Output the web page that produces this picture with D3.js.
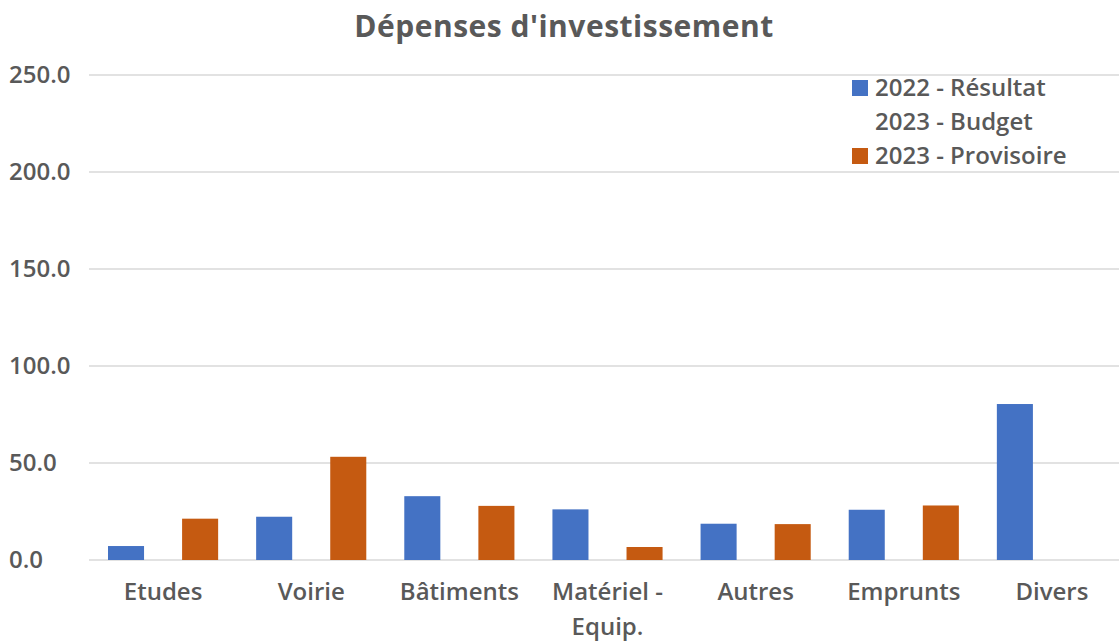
<!DOCTYPE html>
<html>
<head>
<meta charset="utf-8">
<script src="https://cdn.jsdelivr.net/npm/d3@7"></script>
<style>
  body { margin: 0; background: #fff; }
  .chart text { font-family: "Open Sans", sans-serif; fill: #595959; font-weight: 600; }
</style>
</head>
<body>
<div class="chart"></div>
<script>
var categories = ["Etudes", "Voirie", "Bâtiments", "Matériel - Equip.", "Autres", "Emprunts", "Divers"];
var seriesNames = ["2022 - Résultat", "2023 - Budget", "2023 - Provisoire"];
var resultat2022 = [7.2, 22.3, 32.9, 26.1, 18.7, 25.9, 80.4];
var budget2023 = [null, null, null, null, null, null, null];
var provisoire2023 = [21.3, 53.2, 27.9, 6.7, 18.5, 28.1, null];
var seriesColors = ["#4472c4", "none", "#c55a11"];
var yTicks = [0, 50, 100, 150, 200, 250];

var width = 1119, height = 641;
var margin = { top: 75, right: -7, bottom: 81, left: 89 };

var svg = d3.select(".chart").append("svg")
  .attr("width", width)
  .attr("height", height);

var y = d3.scaleLinear()
  .domain([0, 250])
  .range([height - margin.bottom, margin.top]);

var x0 = d3.scaleBand()
  .domain(categories)
  .range([margin.left, width - margin.right]);

var x1 = d3.scaleBand()
  .domain(seriesNames)
  .range([18.5, x0.bandwidth() - 18.5]);

svg.append("text")
  .attr("x", 564)
  .attr("y", 37)
  .attr("text-anchor", "middle")
  .style("font-size", "30px")
  .style("font-weight", "700")
  .style("letter-spacing", "0.5px")
  .text("Dépenses d'investissement");

// gridlines
svg.append("g")
  .selectAll("line")
  .data(yTicks)
  .enter().append("line")
    .attr("x1", margin.left)
    .attr("x2", width)
    .attr("y1", d => y(d))
    .attr("y2", d => y(d))
    .attr("stroke", "#d9d9d9")
    .attr("stroke-width", 1.3);

// y labels, left aligned like the original
svg.append("g")
  .selectAll("text")
  .data(yTicks)
  .enter().append("text")
    .attr("x", 9)
    .attr("y", d => y(d))
    .attr("dy", "0.35em")
    .style("font-size", "24px")
    .text(d => d3.format(".1f")(d));

var seriesData = [resultat2022, budget2023, provisoire2023];

var rows = [];
seriesData.forEach(function(vals, s) {
  vals.forEach(function(v, i) {
    if (v != null) rows.push({ cat: categories[i], series: seriesNames[s], value: v, color: seriesColors[s] });
  });
});

svg.append("g")
  .selectAll("rect")
  .data(rows)
  .enter().append("rect")
    .attr("x", d => x0(d.cat) + x1(d.series) + 0.5)
    .attr("width", x1.bandwidth() - 1)
    .attr("y", d => y(d.value))
    .attr("height", d => y(0) - y(d.value))
    .attr("fill", d => d.color);

// category labels
var catLabels = svg.append("g")
  .selectAll("text")
  .data(categories)
  .enter().append("text")
    .attr("x", d => x0(d) + x0.bandwidth() / 2)
    .attr("y", 600)
    .attr("text-anchor", "middle")
    .style("font-size", "24px");

catLabels.each(function(d) {
  var parts = d === "Matériel - Equip." ? ["Matériel -", "Equip."] : [d];
  var t = d3.select(this);
  parts.forEach(function(p, i) {
    t.append("tspan")
      .attr("x", x0(d) + x0.bandwidth() / 2)
      .attr("dy", i === 0 ? 0 : 35)
      .text(p);
  });
});

// legend
var legend = svg.append("g")
  .attr("transform", "translate(852,80)");

var item = legend.selectAll("g")
  .data(seriesNames)
  .enter().append("g")
    .attr("transform", (d, i) => "translate(0," + (i * 34) + ")");

item.append("rect")
  .attr("width", 16)
  .attr("height", 16)
  .attr("fill", (d, i) => seriesColors[i]);

item.append("text")
  .attr("x", 23)
  .attr("y", 8)
  .attr("dy", "0.35em")
  .style("font-size", "24px")
  .text(d => d);
</script>
</body>
</html>
